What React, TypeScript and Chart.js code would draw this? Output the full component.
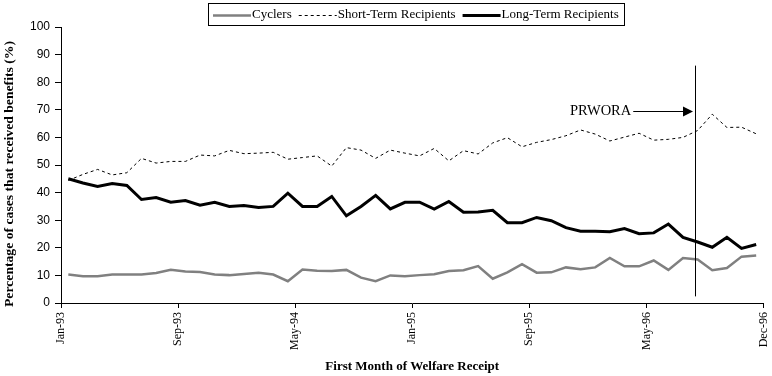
import React, { useEffect, useRef } from "react";
import { Chart, registerables } from "chart.js";

Chart.register(...registerables);

// 48 monthly cohorts, Jan-93 .. Dec-96
const months = [
  "Jan-93", "Feb-93", "Mar-93", "Apr-93", "May-93", "Jun-93", "Jul-93", "Aug-93", "Sep-93", "Oct-93", "Nov-93", "Dec-93",
  "Jan-94", "Feb-94", "Mar-94", "Apr-94", "May-94", "Jun-94", "Jul-94", "Aug-94", "Sep-94", "Oct-94", "Nov-94", "Dec-94",
  "Jan-95", "Feb-95", "Mar-95", "Apr-95", "May-95", "Jun-95", "Jul-95", "Aug-95", "Sep-95", "Oct-95", "Nov-95", "Dec-95",
  "Jan-96", "Feb-96", "Mar-96", "Apr-96", "May-96", "Jun-96", "Jul-96", "Aug-96", "Sep-96", "Oct-96", "Nov-96", "Dec-96",
];

const cyclers = [
  10.3, 9.7, 9.7, 10.3, 10.3, 10.3, 10.9, 12.0, 11.4, 11.2, 10.3, 10.1,
  10.5, 11.0, 10.3, 7.9, 12.1, 11.7, 11.6, 12.0, 9.2, 7.9, 10.0, 9.7,
  10.1, 10.4, 11.6, 11.9, 13.4, 8.8, 11.1, 14.1, 11.0, 11.1, 12.9, 12.2,
  12.9, 16.3, 13.3, 13.3, 15.4, 12.0, 16.3, 15.8, 11.9, 12.7, 16.8, 17.2,
];

const shortTerm = [
  44.4, 46.6, 48.4, 46.4, 47.2, 52.4, 50.7, 51.3, 51.3, 53.6, 53.3, 55.3,
  54.1, 54.3, 54.6, 52.1, 52.7, 53.3, 49.6, 56.3, 55.4, 52.4, 55.4, 54.3,
  53.3, 56.0, 51.5, 55.2, 54.0, 58.0, 59.9, 56.6, 58.2, 59.2, 60.6, 62.7,
  61.2, 58.7, 60.1, 61.5, 59.0, 59.3, 60.0, 62.5, 68.4, 63.6, 63.7, 61.3,
];

const longTerm = [
  45.0, 43.5, 42.2, 43.3, 42.6, 37.5, 38.2, 36.5, 37.1, 35.4, 36.5, 35.0,
  35.3, 34.6, 35.0, 39.8, 35.0, 35.0, 38.6, 31.6, 35.0, 39.0, 34.1, 36.5,
  36.5, 34.0, 36.8, 32.9, 33.0, 33.6, 29.1, 29.1, 31.0, 29.8, 27.3, 26.0,
  26.0, 25.8, 27.0, 25.1, 25.4, 28.6, 23.8, 22.1, 20.2, 23.8, 19.8, 21.2,
];

const xTickLabels = ["Jan-93", "Sep-93", "May-94", "Jan-95", "Sep-95", "May-96", "Dec-96"];
const seriesNames = ["Cyclers", "Short-Term Recipients", "Long-Term Recipients"];
const xTitle = "First Month of Welfare Receipt";
const yTitle = "Percentage of cases that received benefits (%)";

const X_TICK_STEP = 8;
const Y_MAX = 100;
const Y_STEP = 10;

// PRWORA annotation (in data units)
const prworaLabel = "PRWORA";
const prworaX = 43.3;
const prworaTop = 86;
const prworaBottom = 2.4;
const prworaArrowY = 69.6;
const prworaArrowStart = 39.1;

const SERIF = "'Liberation Serif', 'Times New Roman', serif";

const toPoints = (vals: number[]) => vals.map((v, i) => ({ x: i + 0.5, y: v }));

const legendPlugin = {
  id: "boxLegend",
  afterDraw(chart: any) {
    const ctx = chart.ctx as CanvasRenderingContext2D;
    const ds = chart.data.datasets;
    ctx.save();
    ctx.font = `13px ${SERIF}`;
    const lineLen = 38;
    const gapLT = 1;
    const gapItem = 7;
    const pad = 5;
    const widths = ds.map((d: any) => lineLen + gapLT + ctx.measureText(d.label).width);
    const total = widths.reduce((a: number, b: number) => a + b, 0) + gapItem * (ds.length - 1) + pad * 2;
    const cx = 416;
    const left = Math.round(cx - total / 2);
    const top = 3;
    const h = 22;
    ctx.strokeStyle = "#000";
    ctx.lineWidth = 1;
    ctx.setLineDash([]);
    ctx.strokeRect(left + 0.5, top + 0.5, Math.round(total), h);
    let x = left + pad;
    const y = top + h / 2 + 0.5;
    ds.forEach((d: any, i: number) => {
      ctx.save();
      ctx.strokeStyle = d.borderColor;
      ctx.lineWidth = d.borderWidth;
      ctx.setLineDash(d.borderDash || []);
      ctx.beginPath();
      ctx.moveTo(x, Math.round(y) + (d.borderWidth % 2 ? 0.5 : 0));
      ctx.lineTo(x + lineLen, Math.round(y) + (d.borderWidth % 2 ? 0.5 : 0));
      ctx.stroke();
      ctx.restore();
      ctx.fillStyle = "#000";
      ctx.textBaseline = "middle";
      ctx.textAlign = "left";
      ctx.fillText(d.label, x + lineLen + gapLT, y);
      x += widths[i] + gapItem;
    });
    ctx.restore();
  },
};

const yTitlePlugin = {
  id: "yTitle",
  afterDraw(chart: any) {
    const ctx = chart.ctx as CanvasRenderingContext2D;
    ctx.save();
    ctx.font = `bold 13px ${SERIF}`;
    const w = ctx.measureText(yTitle).width;
    const target = 266;
    ctx.translate(10, 174);
    ctx.rotate(-Math.PI / 2);
    ctx.scale(target / w, 1);
    ctx.fillStyle = "#000";
    ctx.textAlign = "center";
    ctx.textBaseline = "middle";
    ctx.fillText(yTitle, 0, 0);
    ctx.restore();
  },
};

const prworaPlugin = {
  id: "prwora",
  afterDatasetsDraw(chart: any) {
    const ctx = chart.ctx as CanvasRenderingContext2D;
    const xs = chart.scales.x;
    const ys = chart.scales.y;
    const lx = Math.round(xs.getPixelForValue(prworaX)) + 0.5;
    ctx.save();
    ctx.strokeStyle = "#000";
    ctx.fillStyle = "#000";
    ctx.lineWidth = 1;
    ctx.beginPath();
    ctx.moveTo(lx, ys.getPixelForValue(prworaTop));
    ctx.lineTo(lx, ys.getPixelForValue(prworaBottom));
    ctx.stroke();

    const ay = Math.round(ys.getPixelForValue(prworaArrowY)) + 0.5;
    const ax0 = xs.getPixelForValue(prworaArrowStart);
    const tip = lx - 2.5;
    ctx.beginPath();
    ctx.moveTo(ax0, ay);
    ctx.lineTo(tip - 9, ay);
    ctx.stroke();
    ctx.beginPath();
    ctx.moveTo(tip, ay);
    ctx.lineTo(tip - 10, ay - 5);
    ctx.lineTo(tip - 10, ay + 5);
    ctx.closePath();
    ctx.fill();

    ctx.font = `14.5px ${SERIF}`;
    ctx.textAlign = "right";
    ctx.textBaseline = "middle";
    ctx.fillText(prworaLabel, ax0 - 2, ay);
    ctx.restore();
  },
};

export default function App() {
  const canvasRef = useRef<HTMLCanvasElement | null>(null);

  useEffect(() => {
    document.body.style.margin = "0";
    const canvas = canvasRef.current;
    if (!canvas) return;
    const chart = new Chart(canvas, {
      type: "line",
      data: {
        labels: months,
        datasets: [
          {
            label: seriesNames[0],
            data: toPoints(cyclers),
            borderColor: "#808080",
            borderWidth: 2.5,
            pointRadius: 0,
            tension: 0,
            fill: false,
          },
          {
            label: seriesNames[1],
            data: toPoints(shortTerm),
            borderColor: "#000000",
            borderWidth: 1,
            borderDash: [3, 3],
            pointRadius: 0,
            tension: 0,
            fill: false,
          },
          {
            label: seriesNames[2],
            data: toPoints(longTerm),
            borderColor: "#000000",
            borderWidth: 3,
            pointRadius: 0,
            tension: 0,
            fill: false,
          },
        ],
      },
      options: {
        animation: false,
        responsive: false,
        devicePixelRatio: 1,
        layout: { padding: { top: 27, right: 8.5, left: 0, bottom: 0 } },
        plugins: {
          legend: { display: false },
          tooltip: { enabled: false },
          title: { display: false },
        },
        scales: {
          x: {
            type: "linear",
            min: 0,
            max: months.length,
            ticks: {
              stepSize: X_TICK_STEP,
              autoSkip: false,
              minRotation: 90,
              maxRotation: 90,
              padding: 4,
              color: "#000",
              font: { family: SERIF, size: 12 },
              callback: (_v: any, i: number) => xTickLabels[i] ?? "",
            },
            grid: { drawOnChartArea: false, drawTicks: true, tickLength: 5, color: "#000", lineWidth: 1 },
            border: { display: true, color: "#000", width: 1 },
            title: {
              display: true,
              text: xTitle,
              color: "#000",
              font: { family: SERIF, size: 13, weight: "bold" },
              padding: { top: 0, bottom: 2 },
            },
            afterFit: (s: any) => {
              s.height = 73;
              s.paddingLeft = 0;
              s.paddingRight = 0;
            },
          },
          y: {
            min: 0,
            max: Y_MAX,
            ticks: {
              stepSize: Y_STEP,
              padding: 5,
              color: "#000",
              font: { family: "'Liberation Sans Narrow', 'Liberation Sans', sans-serif", size: 12 },
            },
            grid: { drawOnChartArea: false, drawTicks: true, tickLength: 6, color: "#000", lineWidth: 1 },
            border: { display: true, color: "#000", width: 1 },
            afterFit: (s: any) => {
              s.width = 61;
              s.paddingTop = 0;
              s.paddingBottom = 0;
            },
          },
        },
      },
      plugins: [legendPlugin, prworaPlugin, yTitlePlugin],
    } as any);
    return () => chart.destroy();
  }, []);

  return (
    <div style={{ width: 772, height: 376 }}>
      <canvas ref={canvasRef} width={772} height={376} style={{ display: "block" }} />
    </div>
  );
}
